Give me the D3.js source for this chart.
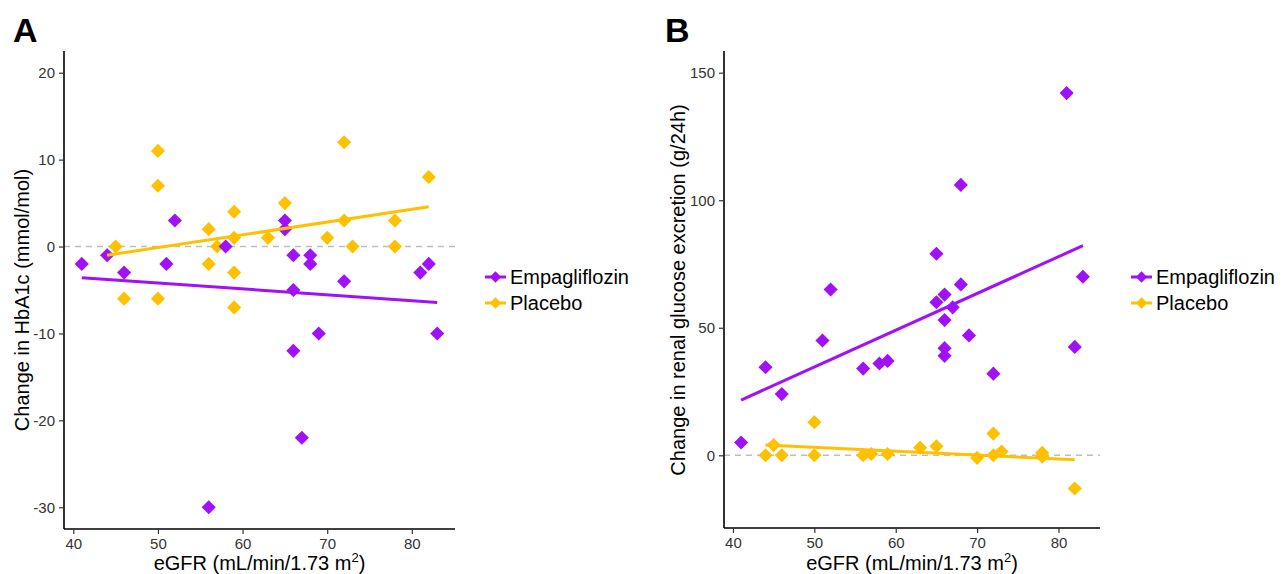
<!DOCTYPE html>
<html>
  <head>
    <meta charset="UTF-8" />
    <title>eGFR vs change in HbA1c and renal glucose excretion</title>
    <style>
      body,
      html {
        margin: 0;
        padding: 0;
        background: #fff;
        overflow: hidden;
      }
      svg text {
        font-family: "Liberation Sans", Arial, sans-serif;
      }
      .tick text {
        fill: #333;
      }
    </style>
  </head>
  <body>
    <svg id="chart" width="1285" height="574"></svg>
    <script src="https://d3js.org/d3.v7.min.js"></script>
    <script>
      // ---- data (x = eGFR, y = change) ----
      const seriesNames = ["Empagliflozin", "Placebo"];
      const seriesColors = ["#a010f8", "#ffc000"];

      // panel A: change in HbA1c (mmol/mol)
      const hba1cEmpaX = [41, 44, 46, 51, 52, 56, 58, 65, 65, 66, 66, 66, 67, 68, 68, 69, 72, 81, 82, 83];
      const hba1cEmpaY = [-2, -1, -3, -2, 3, -30, 0, 3, 2, -1, -5, -12, -22, -1, -2, -10, -4, -3, -2, -10];
      const hba1cPlacX = [44, 45, 46, 50, 50, 50, 56, 56, 57, 59, 59, 59, 59, 63, 65, 70, 72, 72, 73, 78, 78, 82];
      const hba1cPlacY = [-1, 0, -6, 11, 7, -6, 2, -2, 0, 4, 1, -3, -7, 1, 5, 1, 12, 3, 0, 3, 0, 8];
      const hba1cTicks = [-30, -20, -10, 0, 10, 20];

      // panel B: change in renal glucose excretion (g/24h)
      const ugeEmpaX = [41, 44, 46, 51, 52, 56, 58, 59, 65, 65, 66, 66, 66, 66, 67, 68, 68, 69, 72, 81, 82, 83];
      const ugeEmpaY = [5, 34.5, 24, 45, 65, 34, 36, 37, 79, 60, 63, 53, 42, 39, 58, 106, 67, 47, 32, 142, 42.5, 70];
      const ugePlacX = [44, 45, 46, 50, 50, 56, 57, 59, 63, 65, 70, 72, 72, 73, 78, 78, 82];
      const ugePlacY = [0, 4, 0, 13, 0, 0, 0.5, 0.5, 3, 3.5, -1, 8.5, 0, 1.5, 1, -0.5, -13];
      const ugeTicks = [0, 50, 100, 150];

      const egfrTicks = [40, 50, 60, 70, 80];

      const svg = d3.select("#chart");

      function zip(xs, ys) {
        return xs.map((x, i) => ({ x: x, y: ys[i] }));
      }

      // ordinary least squares, drawn over the range of the series
      function fitLine(pts) {
        const mx = d3.mean(pts, (d) => d.x);
        const my = d3.mean(pts, (d) => d.y);
        const sxy = d3.sum(pts, (d) => (d.x - mx) * (d.y - my));
        const sxx = d3.sum(pts, (d) => (d.x - mx) * (d.x - mx));
        const b = sxy / sxx;
        const a = my - b * mx;
        const [x0, x1] = d3.extent(pts, (d) => d.x);
        return [
          { x: x0, y: a + b * x0 },
          { x: x1, y: a + b * x1 },
        ];
      }

      function drawPanel(opt) {
        const g = svg.append("g");
        const x = d3.scaleLinear().domain([38.9, 85.1]).range([opt.left, opt.right]);
        const y = d3.scaleLinear().domain(opt.yDomain).range([opt.bottom, opt.top]);

        // zero reference line
        g.append("line")
          .attr("x1", opt.left)
          .attr("x2", opt.right)
          .attr("y1", y(0))
          .attr("y2", y(0))
          .attr("stroke", "#bdbdbd")
          .attr("stroke-width", 1.6)
          .attr("stroke-dasharray", "6,5");

        const series = [zip(opt.empaX, opt.empaY), zip(opt.placX, opt.placY)];
        const diamond = d3.symbol().type(d3.symbolSquare).size(100);

        // placebo first so that empagliflozin sits on top
        [1, 0].forEach((k) => {
          g.append("g")
            .selectAll("path")
            .data(series[k])
            .join("path")
            .attr("d", diamond)
            .attr("transform", (d) => `translate(${x(d.x)},${y(d.y)}) rotate(45)`)
            .attr("fill", seriesColors[k]);
        });

        const line = d3
          .line()
          .x((d) => x(d.x))
          .y((d) => y(d.y));
        [0, 1].forEach((k) => {
          g.append("path")
            .datum(fitLine(series[k]))
            .attr("d", line)
            .attr("fill", "none")
            .attr("stroke", seriesColors[k])
            .attr("stroke-width", 3);
        });

        // axes (plain hyphen for negatives, like the original)
        const fmt = (v) => String(v);
        const xAxis = g
          .append("g")
          .attr("transform", `translate(0,${opt.bottom})`)
          .call(d3.axisBottom(x).tickValues(egfrTicks).tickFormat(fmt).tickSize(5).tickPadding(4));
        const yAxis = g
          .append("g")
          .attr("transform", `translate(${opt.left},0)`)
          .call(d3.axisLeft(y).tickValues(opt.yTicks).tickFormat(fmt).tickSize(5).tickPadding(4));
        [xAxis, yAxis].forEach((ax) => {
          ax.select(".domain").attr("stroke", "#000").attr("stroke-width", 1.6);
          ax.selectAll(".tick line").attr("stroke", "#333").attr("stroke-width", 1.2);
          ax.selectAll(".tick text").attr("font-size", 15).attr("font-family", null);
        });
        xAxis.select(".domain").attr("d", `M${opt.left},0H${opt.right}`);
        yAxis.select(".domain").attr("d", `M0,${opt.bottom}V${opt.top}`);

        // titles
        const xt = g
          .append("text")
          .attr("x", (opt.left + opt.right) / 2)
          .attr("y", 570)
          .attr("text-anchor", "middle")
          .attr("font-size", 20);
        xt.append("tspan").text("eGFR (mL/min/1.73 m");
        xt.append("tspan").attr("font-size", 13).attr("dy", -8).text("2");
        xt.append("tspan").attr("dy", 8).text(")");

        g.append("text")
          .attr("transform", `translate(${opt.yTitleX},${opt.yTitleY}) rotate(-90)`)
          .attr("text-anchor", "middle")
          .attr("font-size", 20)
          .text(opt.yTitle);

        g.append("text")
          .attr("x", opt.letterX)
          .attr("y", 42)
          .attr("font-size", 34)
          .attr("font-weight", "bold")
          .text(opt.letter);

        // legend
        const lg = g.append("g").attr("transform", `translate(${opt.legendX},277)`);
        seriesNames.forEach((name, k) => {
          const row = lg.append("g").attr("transform", `translate(0,${k * 26})`);
          row.append("line")
            .attr("x1", 0)
            .attr("x2", 21)
            .attr("stroke", seriesColors[k])
            .attr("stroke-width", 3);
          row.append("path")
            .attr("d", d3.symbol().type(d3.symbolSquare).size(64))
            .attr("transform", "translate(10.5,0) rotate(45)")
            .attr("fill", seriesColors[k]);
          row.append("text")
            .attr("x", 25)
            .attr("y", 7)
            .attr("font-size", 20)
            .text(name);
        });
      }

      drawPanel({
        letter: "A",
        letterX: 13,
        left: 64,
        right: 455,
        top: 51,
        bottom: 529,
        yDomain: [-32.5, 22.5],
        yTicks: hba1cTicks,
        empaX: hba1cEmpaX,
        empaY: hba1cEmpaY,
        placX: hba1cPlacX,
        placY: hba1cPlacY,
        yTitle: "Change in HbA1c (mmol/mol)",
        yTitleX: 29,
        yTitleY: 300,
        legendX: 485,
      });

      drawPanel({
        letter: "B",
        letterX: 665,
        left: 724,
        right: 1100,
        top: 51,
        bottom: 528,
        yDomain: [-28.5, 158.5],
        yTicks: ugeTicks,
        empaX: ugeEmpaX,
        empaY: ugeEmpaY,
        placX: ugePlacX,
        placY: ugePlacY,
        yTitle: "Change in renal glucose excretion (g/24h)",
        yTitleX: 685,
        yTitleY: 290,
        legendX: 1131,
      });
    </script>
  </body>
</html>
